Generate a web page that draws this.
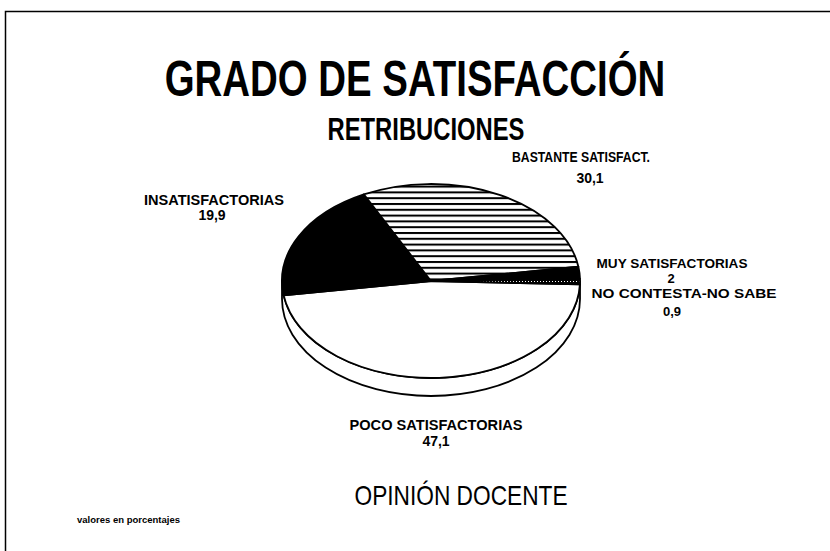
<!DOCTYPE html>
<html>
<head>
<meta charset="utf-8">
<script src="https://cdn.jsdelivr.net/npm/d3@7"></script>
<style>
  body { margin: 0; background: #fff; }
  text { font-family: "Liberation Sans", Arial, sans-serif; fill: #000; }
</style>
</head>
<body>
<div id="chart"></div>
<script>
"use strict";

// data (percentages)
const categories = [
  "POCO SATISFACTORIAS",
  "INSATISFACTORIAS",
  "BASTANTE SATISFACT.",
  "MUY SATISFACTORIAS",
  "NO CONTESTA-NO SABE",
];
const values = [47.1, 19.9, 30.1, 2, 0.9];
const valueLabels = ["47,1", "19,9", "30,1", "2", "0,9"];

const width = 830,
  height = 551;

// pie geometry (flattened ellipse with a front wall)
const cx = 431,
  cy = 281,
  rx = 149,
  ry = 97,
  depth = 18;

const svg = d3
  .select("#chart")
  .append("svg")
  .attr("width", width)
  .attr("height", height)
  .attr("viewBox", [0, 0, width, height]);

const defs = svg.append("defs");

// horizontal hatching
const hatch = defs
  .append("pattern")
  .attr("id", "hatch")
  .attr("patternUnits", "userSpaceOnUse")
  .attr("width", 8)
  .attr("height", 5.8);
hatch.append("rect").attr("width", 8).attr("height", 5.8).attr("fill", "#fff");
hatch.append("rect").attr("width", 8).attr("height", 2).attr("fill", "#000");

// black with a faint dotted line
const dots = defs
  .append("pattern")
  .attr("id", "dots")
  .attr("patternUnits", "userSpaceOnUse")
  .attr("width", 3)
  .attr("height", 8)
  .attr("y", 1);
dots.append("rect").attr("width", 3).attr("height", 8).attr("fill", "#000");
dots.append("rect").attr("width", 1).attr("height", 1).attr("fill", "#fff");

const fills = ["#fff", "#000", "url(#hatch)", "#000", "url(#dots)"];

// frame
svg
  .append("rect")
  .attr("x", 5.5)
  .attr("y", 11.5)
  .attr("width", 840)
  .attr("height", 560)
  .attr("fill", "none")
  .attr("stroke", "#000")
  .attr("stroke-width", 1.5);

// titles (the original type is tall, so stretch it vertically)
function stretchedText(x, y, str, size, weight, k) {
  svg
    .append("text")
    .attr("transform", `translate(${x},${y}) scale(1,${k})`)
    .attr("text-anchor", "middle")
    .style("font-size", size + "px")
    .style("font-weight", weight)
    .text(str);
}

stretchedText(415, 96, "GRADO DE SATISFACCIÓN", 38.4, "bold", 1.28);
stretchedText(426, 140, "RETRIBUCIONES", 23.8, "bold", 1.28);
stretchedText(461, 505, "OPINIÓN DOCENTE", 22.7, "normal", 1.2);

// pie
const pie = d3
  .pie()
  .sort(null)
  .value((d) => d)
  .startAngle((92 * Math.PI) / 180)
  .endAngle((92 * Math.PI) / 180 + 2 * Math.PI);

const arcs = pie(values);

function pt(a) {
  const t = a - Math.PI / 2;
  return [cx + rx * Math.cos(t), cy + ry * Math.sin(t)];
}

function slicePath(d) {
  const p0 = pt(d.startAngle),
    p1 = pt(d.endAngle),
    large = d.endAngle - d.startAngle > Math.PI ? 1 : 0;
  const p = d3.path();
  p.moveTo(cx, cy);
  p.lineTo(p0[0], p0[1]);
  return (
    p.toString() +
    `A${rx},${ry} 0 ${large} 1 ${p1[0]},${p1[1]}Z`
  );
}

// front wall
svg
  .append("path")
  .attr(
    "d",
    `M${cx - rx},${cy}L${cx - rx},${cy + depth}` +
      `A${rx},${ry} 0 0 0 ${cx + rx},${cy + depth}` +
      `L${cx + rx},${cy}` +
      `A${rx},${ry} 0 0 1 ${cx - rx},${cy}Z`
  )
  .attr("fill", "#fff")
  .attr("stroke", "#000")
  .attr("stroke-width", 1.8)
  .attr("stroke-linejoin", "round");

svg
  .append("g")
  .selectAll("path")
  .data(arcs)
  .join("path")
  .attr("d", slicePath)
  .attr("fill", (d, i) => fills[i])
  .attr("stroke", "#000")
  .attr("stroke-width", 1.8)
  .attr("stroke-linejoin", "round");

// slice labels: [name x, name baseline, name width, value x, value baseline, font size]
const labelPos = [
  [436, 430, 173, 436, 446, 14],
  [214, 205, 140, 212, 220, 14],
  [581, 162, 138, 590, 183, 14],
  [672, 268, 151, 671, 283, 13],
  [684, 298, 185, 672, 316, 13],
];

const labels = svg.append("g").style("font-weight", "bold");

labels
  .selectAll("text.name")
  .data(categories)
  .join("text")
  .attr("class", "name")
  .attr("x", (d, i) => labelPos[i][0])
  .attr("y", (d, i) => labelPos[i][1])
  .attr("text-anchor", "middle")
  .attr("textLength", (d, i) => labelPos[i][2])
  .attr("lengthAdjust", "spacingAndGlyphs")
  .style("font-size", (d, i) => labelPos[i][5] + "px")
  .text((d) => d);

labels
  .selectAll("text.value")
  .data(valueLabels)
  .join("text")
  .attr("class", "value")
  .attr("x", (d, i) => labelPos[i][3])
  .attr("y", (d, i) => labelPos[i][4])
  .attr("text-anchor", "middle")
  .style("font-size", (d, i) => labelPos[i][5] + "px")
  .text((d) => d);

svg
  .append("text")
  .attr("x", 77)
  .attr("y", 523)
  .style("font-size", "9.5px")
  .style("font-weight", "bold")
  .text("valores en porcentajes");
</script>
</body>
</html>
